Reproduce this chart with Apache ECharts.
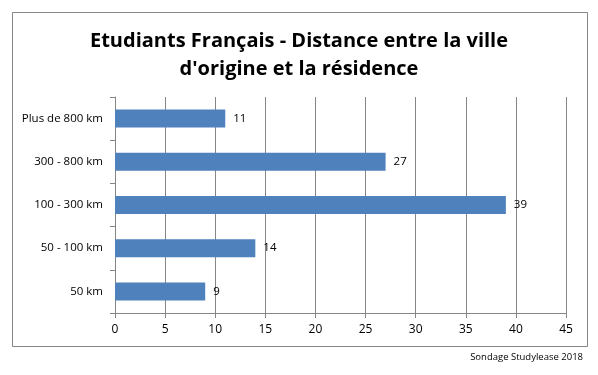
<!DOCTYPE html>
<html><head><meta charset="utf-8">
<script src="https://cdn.jsdelivr.net/npm/echarts@6/dist/echarts.min.js"></script>
<style>html,body{margin:0;padding:0;background:#fff}#c{width:598px;height:375px}</style>
</head><body><div id="c"></div>
<script>
const categories = ['50 km', '50 - 100 km', '100 - 300 km', '300 - 800 km', 'Plus de 800 km'];
const values = [9, 14, 39, 27, 11];
const titleText = 'Etudiants Français - Distance entre la ville\nd\'origine et la résidence';
const sourceText = 'Sondage Studylease 2018';

const chart = echarts.init(document.getElementById('c'), null, {renderer: 'canvas'});
const font = '"Open Sans", "Liberation Sans", sans-serif';
chart.setOption({
  animation: false,
  title: {
    text: titleText, left: 'center', top: 22,
    textStyle: {fontFamily: font, fontSize: 20, fontWeight: 'bold', color: '#000', lineHeight: 28}
  },
  graphic: [
    {type: 'rect', shape: {x: 12.5, y: 12.5, width: 575, height: 334}, style: {fill: 'none', stroke: '#868686', lineWidth: 1}, z: -1},
    {type: 'text', right: 15, top: 352, style: {text: sourceText, font: '9.5px ' + font, fill: '#000'}}
  ],
  grid: {left: 115, right: 32, top: 97, bottom: 62},
  xAxis: {
    type: 'value', min: 0, max: 45, interval: 5,
    axisLine: {show: true, lineStyle: {color: '#868686'}},
    axisTick: {show: true, length: 5, lineStyle: {color: '#868686'}},
    splitLine: {show: true, lineStyle: {color: '#868686'}},
    axisLabel: {fontFamily: font, fontSize: 12, color: '#000', margin: 11}
  },
  yAxis: {
    type: 'category', data: categories,
    axisLine: {show: true, lineStyle: {color: '#868686'}},
    axisTick: {show: true, length: 5, lineStyle: {color: '#868686'}},
    axisLabel: {fontFamily: font, fontSize: 11.5, color: '#000', margin: 12}
  },
  series: [{
    type: 'bar', data: values, barWidth: 18,
    itemStyle: {color: '#4f81bd'},
    label: {show: true, position: 'right', distance: 8, fontFamily: font, fontSize: 11.5, color: '#000'}
  }]
});
</script></body></html>
